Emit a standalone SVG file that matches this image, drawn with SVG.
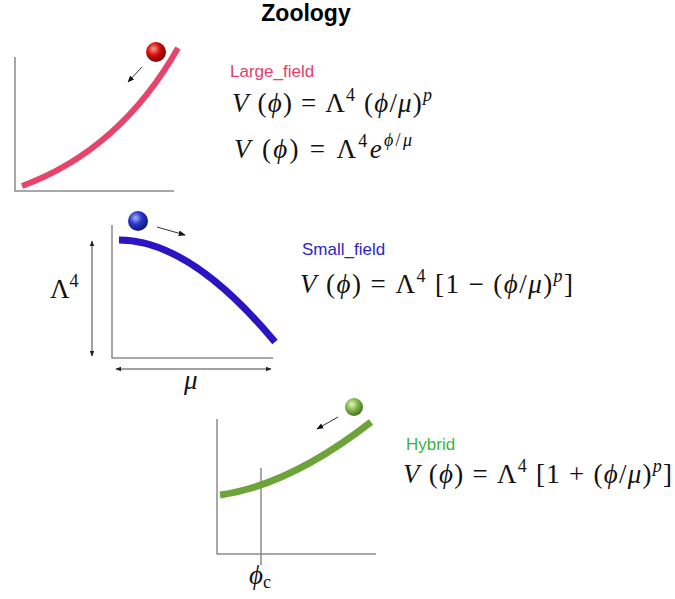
<svg xmlns="http://www.w3.org/2000/svg" width="675" height="599" viewBox="0 0 675 599">
<style>
.axis{stroke:#8a8a8a;stroke-width:1.5;fill:none}
.eq{font-family:"Liberation Serif","DejaVu Serif",serif;font-size:27px;fill:#111}
.i{font-style:italic}
.lbl{font-family:"Liberation Sans",Arial,sans-serif;font-size:17px}
.mv{stroke:#333;stroke-width:1;fill:none}
.dbl{stroke:#444;stroke-width:1;fill:none}
</style>
<defs>
<marker id="ah" viewBox="0 0 10 10" refX="9" refY="5" markerWidth="7" markerHeight="7" orient="auto-start-reverse"><path d="M0,1 L10,5 L0,9 z" fill="#111"/></marker>
<marker id="ah2" viewBox="0 0 10 10" refX="9" refY="5" markerWidth="6" markerHeight="6" orient="auto-start-reverse"><path d="M0,1 L10,5 L0,9 z" fill="#222"/></marker>
<radialGradient id="gr" cx="0.38" cy="0.35" r="0.7"><stop offset="0" stop-color="#ff9a8a"/><stop offset="0.45" stop-color="#d01010"/><stop offset="1" stop-color="#7a0000"/></radialGradient>
<radialGradient id="gb" cx="0.38" cy="0.35" r="0.7"><stop offset="0" stop-color="#a8b4ff"/><stop offset="0.45" stop-color="#2a36c8"/><stop offset="1" stop-color="#0a1270"/></radialGradient>
<radialGradient id="gg" cx="0.38" cy="0.35" r="0.7"><stop offset="0" stop-color="#e4f5c4"/><stop offset="0.45" stop-color="#86b850"/><stop offset="1" stop-color="#3c6a1c"/></radialGradient>
</defs>
<text x="306" y="21" font-family="Liberation Sans,Arial,sans-serif" font-size="23" font-weight="bold" text-anchor="middle" fill="#000">Zoology</text>

<g id="large-field">
<path class="axis" d="M15,57 V191 H174"/>
<path d="M22,186 Q120,150 178,48" stroke="#e8436b" stroke-width="6" fill="none"/>
<circle cx="156" cy="52" r="10" fill="url(#gr)"/>
<line class="mv" x1="142" y1="67" x2="128" y2="82" marker-end="url(#ah)"/>
<text class="lbl" x="230" y="77" fill="#e5406f">Large_field</text>
<text class="eq" x="232" y="112" textLength="200" lengthAdjust="spacing"><tspan class="i">V</tspan> (<tspan class="i">ϕ</tspan>) = Λ<tspan dy="-11" font-size="18">4</tspan><tspan dy="11"> (</tspan><tspan class="i">ϕ</tspan>/<tspan class="i">μ</tspan>)<tspan class="i" dy="-11" font-size="18">p</tspan></text>
<text class="eq" x="234" y="158" textLength="178" lengthAdjust="spacing"><tspan class="i">V</tspan> (<tspan class="i">ϕ</tspan>) = Λ<tspan dy="-11" font-size="18">4</tspan><tspan class="i" dy="11">e</tspan><tspan class="i" dy="-12" font-size="18">ϕ</tspan><tspan font-size="18">/</tspan><tspan class="i" font-size="18">μ</tspan></text>
</g>

<g id="small-field">
<path class="axis" d="M112,225 V358 H273"/>
<path d="M119,240 Q190,240 275,342" stroke="#2a14c4" stroke-width="7" fill="none"/>
<circle cx="138" cy="221" r="10" fill="url(#gb)"/>
<line class="mv" x1="157" y1="227" x2="185" y2="235" marker-end="url(#ah)"/>
<line class="dbl" x1="92" y1="241" x2="92" y2="356" marker-start="url(#ah2)" marker-end="url(#ah2)"/>
<line class="dbl" x1="116" y1="369" x2="271" y2="369" marker-start="url(#ah2)" marker-end="url(#ah2)"/>
<text class="eq" x="50" y="298">Λ<tspan dy="-11" font-size="18">4</tspan></text>
<text class="eq i" x="184" y="389">μ</text>
<text class="lbl" x="302" y="255" fill="#2e1fc9">Small_field</text>
<text class="eq" x="300" y="293" textLength="273" lengthAdjust="spacing"><tspan class="i">V</tspan> (<tspan class="i">ϕ</tspan>) = Λ<tspan dy="-11" font-size="18">4</tspan><tspan dy="11"> [1 − (</tspan><tspan class="i">ϕ</tspan>/<tspan class="i">μ</tspan>)<tspan class="i" dy="-11" font-size="18">p</tspan><tspan dy="11">]</tspan></text>
</g>

<g id="hybrid">
<path class="axis" d="M217,419 V554 H376"/>
<line class="axis" x1="261" y1="468" x2="261" y2="565"/>
<path d="M220,495 Q290,485 371,422" stroke="#6ea33a" stroke-width="7" fill="none"/>
<circle cx="354" cy="407" r="9" fill="url(#gg)"/>
<line class="mv" x1="338" y1="417" x2="317" y2="429" marker-end="url(#ah)"/>
<text class="eq" x="249" y="584"><tspan class="i">ϕ</tspan><tspan dy="4" font-size="18">c</tspan></text>
<text class="lbl" x="406" y="450" fill="#3cb43c">Hybrid</text>
<text class="eq" x="403" y="483" textLength="269" lengthAdjust="spacing"><tspan class="i">V</tspan> (<tspan class="i">ϕ</tspan>) = Λ<tspan dy="-11" font-size="18">4</tspan><tspan dy="11"> [1 + (</tspan><tspan class="i">ϕ</tspan>/<tspan class="i">μ</tspan>)<tspan class="i" dy="-11" font-size="18">p</tspan><tspan dy="11">]</tspan></text>
</g>
</svg>
